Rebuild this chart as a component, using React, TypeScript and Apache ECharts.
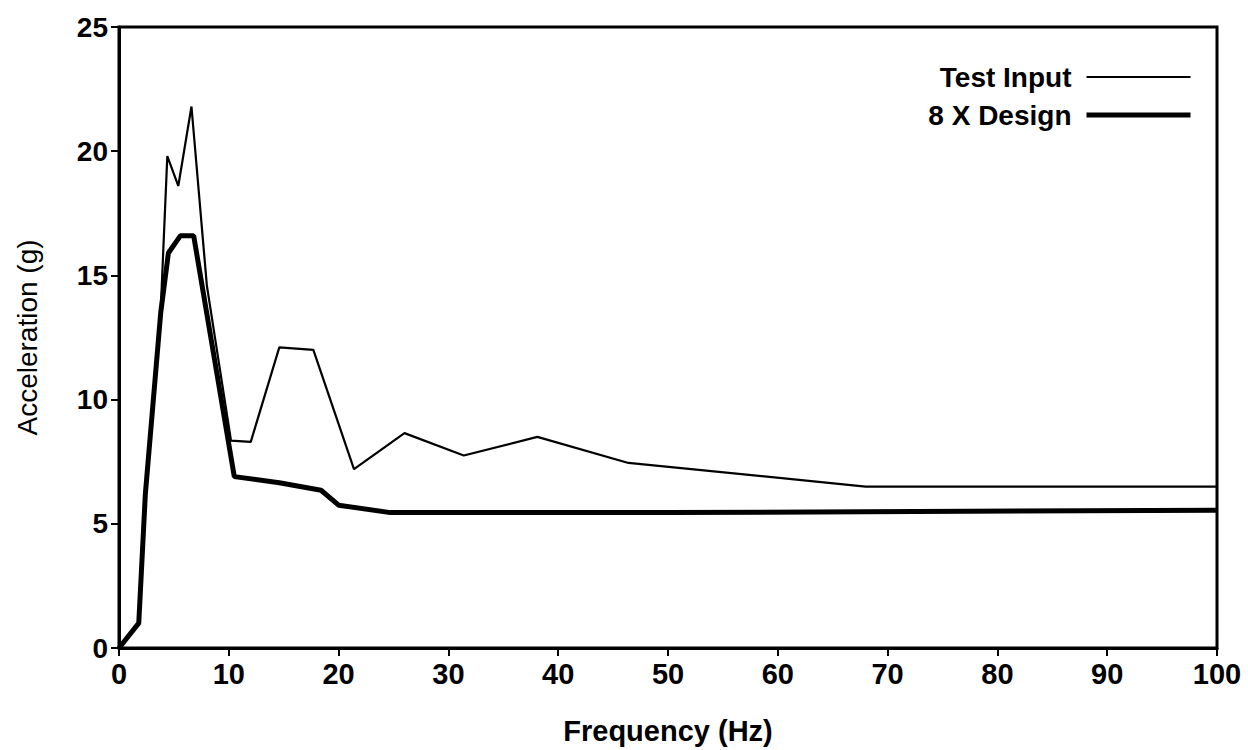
import React, { useEffect, useRef } from "react";
import * as echarts from "echarts";

const testFreq = [0, 1.8, 2.4, 3.8, 4.4, 5.4, 6.6, 8.0, 10.2, 12.0, 14.6, 17.7, 21.4, 26.0, 31.4, 38.1, 46.4, 68.0, 100];
const testAcc = [0, 1.0, 6.3, 13.6, 19.8, 18.6, 21.8, 14.6, 8.35, 8.3, 12.1, 12.0, 7.2, 8.65, 7.75, 8.5, 7.45, 6.5, 6.5];

const designFreq = [0, 1.8, 2.4, 3.8, 4.5, 5.6, 6.8, 10.5, 14.6, 18.4, 20.0, 24.7, 50, 100];
const designAcc = [0, 1.0, 6.2, 13.5, 15.9, 16.6, 16.6, 6.9, 6.65, 6.35, 5.75, 5.45, 5.45, 5.55];

const seriesNames = ["Test Input", "8 X Design"];
const lineWidths = [2.2, 5];
const xTitle = "Frequency (Hz)";
const yTitle = "Acceleration (g)";

const FONT = "'Liberation Sans', Arial, Helvetica, sans-serif";

export default function App() {
  const ref = useRef<HTMLDivElement>(null);
  useEffect(() => {
    if (!ref.current) return;
    const chart = echarts.init(ref.current, null, { renderer: "svg" });
    const pair = (xs: number[], ys: number[]) => xs.map((x, i) => [x, ys[i]]);
    chart.setOption({
      animation: false,
      backgroundColor: "#ffffff",
      textStyle: { fontFamily: FONT, color: "#000" },
      grid: {
        left: 119,
        right: 31,
        top: 27,
        bottom: 102,
        show: true,
        borderColor: "#000",
        borderWidth: 3,
      },
      legend: {
        orient: "vertical",
        right: 50,
        top: 55,
        align: "right",
        itemWidth: 104,
        itemHeight: 14,
        itemGap: 4,
        selectedMode: false,
        data: seriesNames.map((n, i) => ({
          name: n,
          itemStyle: { opacity: 0 },
          lineStyle: { color: "#000", width: lineWidths[i] },
        })),
        textStyle: {
          fontFamily: FONT,
          fontSize: 28,
          fontWeight: "bold",
          color: "#000",
          lineHeight: 34,
          padding: [0, 10, 0, 0],
        },
      },
      xAxis: {
        type: "value",
        min: 0,
        max: 100,
        interval: 10,
        name: xTitle,
        nameLocation: "middle",
        nameGap: 68,
        nameTextStyle: { fontFamily: FONT, fontSize: 29, fontWeight: "bold", color: "#000" },
        axisLine: { show: true, lineStyle: { color: "#000", width: 3 } },
        axisTick: { show: true, length: 8, lineStyle: { color: "#000", width: 2 } },
        axisLabel: { margin: 11, fontFamily: FONT, fontSize: 29, fontWeight: "bold", color: "#000" },
        splitLine: { show: false },
      },
      yAxis: {
        type: "value",
        min: 0,
        max: 25,
        interval: 5,
        name: yTitle,
        nameLocation: "middle",
        nameRotate: 90,
        nameGap: 78,
        nameTextStyle: { fontFamily: FONT, fontSize: 28, color: "#000" },
        axisLine: { show: true, lineStyle: { color: "#000", width: 3 } },
        axisTick: { show: true, length: 8, lineStyle: { color: "#000", width: 2 } },
        axisLabel: { margin: 11, fontFamily: FONT, fontSize: 28, fontWeight: "bold", color: "#000" },
        splitLine: { show: false },
      },
      series: [
        {
          name: seriesNames[0],
          type: "line",
          data: pair(testFreq, testAcc),
          symbol: "none",
          lineStyle: { color: "#000", width: lineWidths[0] },
          itemStyle: { color: "#000" },
        },
        {
          name: seriesNames[1],
          type: "line",
          data: pair(designFreq, designAcc),
          symbol: "none",
          lineStyle: { color: "#000", width: lineWidths[1] },
          itemStyle: { color: "#000" },
        },
      ],
    });
    return () => chart.dispose();
  }, []);
  return <div ref={ref} style={{ width: 1248, height: 750, position: "absolute", left: 0, top: 0 }} />;
}
